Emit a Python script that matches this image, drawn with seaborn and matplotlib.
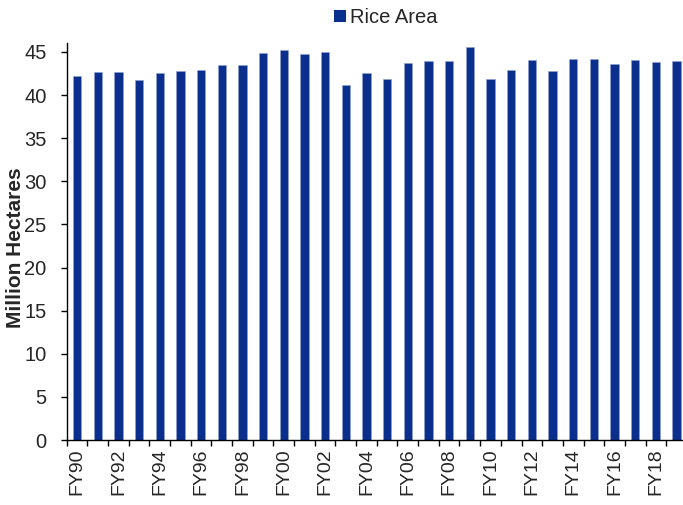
import matplotlib
matplotlib.use("Agg")
import matplotlib.pyplot as plt
from matplotlib.patches import Patch
import seaborn as sns
import pandas as pd

years = ["FY90", "FY91", "FY92", "FY93", "FY94", "FY95", "FY96", "FY97", "FY98", "FY99",
         "FY00", "FY01", "FY02", "FY03", "FY04", "FY05", "FY06", "FY07", "FY08", "FY09",
         "FY10", "FY11", "FY12", "FY13", "FY14", "FY15", "FY16", "FY17", "FY18", "FY19"]
rice_area = [42.2, 42.7, 42.7, 41.8, 42.6, 42.8, 42.9, 43.5, 43.5, 44.9,
             45.2, 44.8, 45.0, 41.2, 42.6, 41.9, 43.7, 43.9, 44.0, 45.6,
             41.9, 42.9, 44.1, 42.8, 44.2, 44.2, 43.6, 44.1, 43.8, 43.9]
y_ticks = [0, 5, 10, 15, 20, 25, 30, 35, 40, 45]

bar_color = "#0A2F8C"

sns.set_style("white")
plt.rcParams["font.family"] = ["Liberation Sans", "DejaVu Sans"]

df = pd.DataFrame({"year": years, "area": rice_area})

fig = plt.figure(figsize=(6.83, 5.05), dpi=100)
ax = fig.add_axes([0.0977, 0.1287, 0.908, 0.7855])

sns.barplot(data=df, x="year", y="area", color=bar_color, saturation=1,
            width=0.4, ax=ax, edgecolor="#8FA3D0", linewidth=0.4)

n = len(years)
ax.set_xlim(-0.5, n - 0.5)
ax.set_ylim(0, 46)

# labels on every other year, tick marks at category boundaries
ax.set_xticks(range(0, n, 2))
ax.set_xticklabels(years[::2], rotation=90, fontsize=14)
ax.set_xticks([i - 0.5 for i in range(n + 1)], minor=True)
ax.tick_params(axis="x", which="major", length=0, pad=6)
ax.tick_params(axis="x", which="minor", length=4.5, width=1, color="black",
               direction="out", bottom=True)

ax.set_yticks(y_ticks)
ax.set_yticklabels([str(v) for v in y_ticks], fontsize=14.5)
ax.tick_params(axis="y", length=4.5, width=1, color="black", direction="out",
               left=True, pad=10)

for side in ["top", "right"]:
    ax.spines[side].set_visible(False)
for side in ["left", "bottom"]:
    ax.spines[side].set_color("black")
    ax.spines[side].set_linewidth(1)

ax.set_xlabel("")
ax.set_ylabel("Million Hectares", fontsize=15, fontweight="bold")
ax.yaxis.set_label_coords(-0.068, 0.485)

fig.legend(handles=[Patch(facecolor=bar_color, edgecolor="none", label="Rice Area")],
           loc="upper center", bbox_to_anchor=(0.565, 1.008), frameon=False,
           fontsize=14.5, handlelength=0.6, handleheight=0.6, handletextpad=0.2,
           borderaxespad=0.2)

fig.savefig("out.png", dpi=100)
